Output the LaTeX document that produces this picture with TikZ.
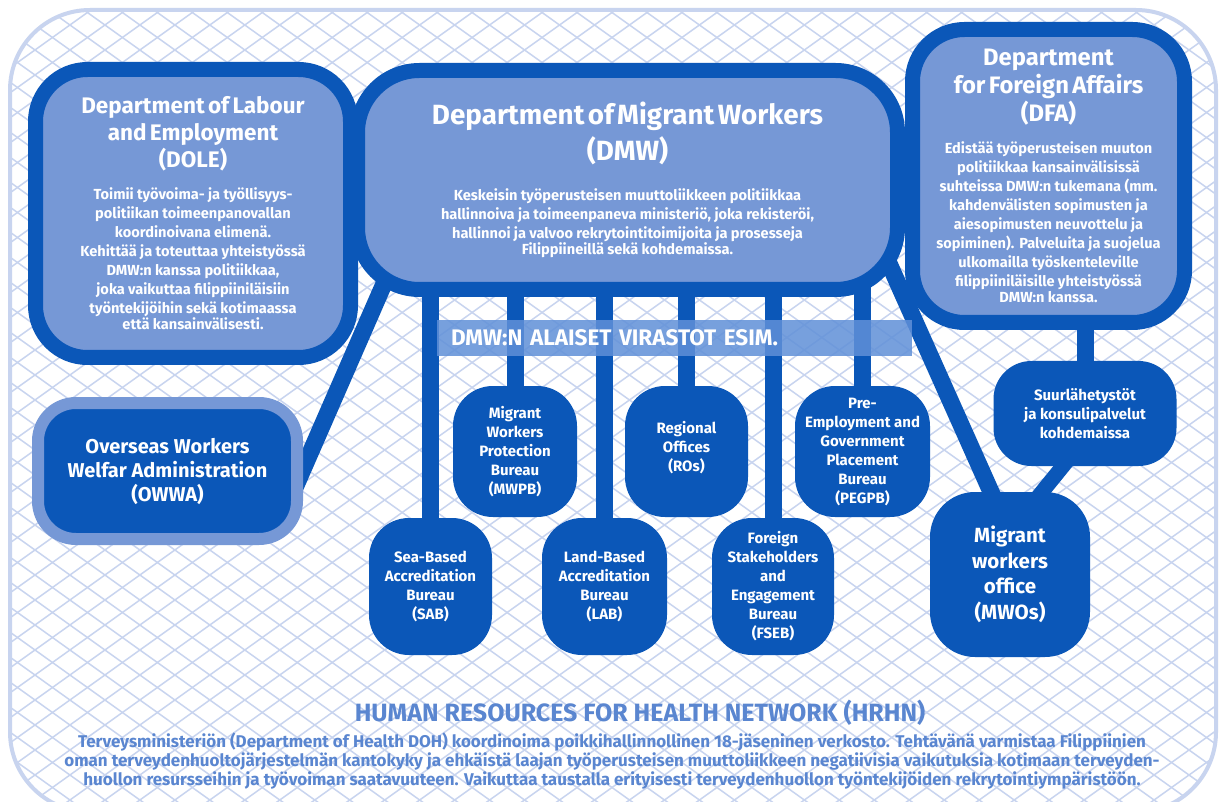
\documentclass[tikz,border=0pt]{standalone}
\usepackage{fontspec}
\setmainfont{Fira Sans}
\usetikzlibrary{positioning}
\definecolor{dkblue}{RGB}{11,87,184}
\definecolor{ltblue}{RGB}{118,152,214}
\definecolor{hatchblue}{RGB}{200,212,239}
\definecolor{barblue}{RGB}{96,144,216}
\definecolor{txtblue}{RGB}{90,134,208}
\pgfdeclarelayer{back}
\pgfdeclarelayer{bg}
\pgfsetlayers{back,bg,main}
\newcommand{\boxbody}{\fontsize{14.6}{19}\selectfont}
\begin{document}
\begin{tikzpicture}[x=1pt,y=-1pt,
  bigbox/.style={draw=dkblue,line width=15pt,fill=ltblue,text=white,font=\bfseries,align=center,inner sep=0pt},
  subbox/.style={fill=dkblue,rounded corners=40pt,text=white,font=\bfseries\fontsize{15}{19}\selectfont,align=center,inner sep=0pt},
  link/.style={dkblue,line width=17pt},
  hatch/.style={hatchblue,line width=1.5pt}]
\useasboundingbox (0,0) rectangle (1224,802);

% net in the background
\begin{pgfonlayer}{back}
\fill[white] (0,0) rectangle (1224,802);
\begin{scope}
\clip[rounded corners=80pt] (10,10) rectangle (1216,812);
\foreach \c in {-900,-875,...,825} \draw[hatch] (0,\c) -- (1224,\c+875);
\foreach \c in {0,25,...,1700} \draw[hatch] (0,\c) -- (1224,\c-875);
\end{scope}
\draw[hatchblue,line width=4pt,rounded corners=80pt] (10,10) rectangle (1216,812);
\end{pgfonlayer}

\node[bigbox,rounded corners=52pt,minimum width=315pt,minimum height=288pt,text width=300pt] (dole) at (193,213.5) {\fontsize{22.5}{27}\selectfont Department of Labour\\and Employment\\(DOLE)\par\vspace{13pt}\boxbody
Toimii työvoima- ja työllisyys-\\politiikan toimeenpanovallan\\koordinoivana elimenä.\\Kehittää ja toteuttaa yhteistyössä\\DMW:n kanssa politiikkaa,\\joka vaikuttaa filippiiniläisiin\\työntekijöihin sekä kotimaassa\\että kansainvälisesti.};
\node[bigbox,rounded corners=62pt,minimum width=540pt,minimum height=219pt,text width=520pt] (dmw) at (627.5,180) {\fontsize{27.8}{36}\selectfont Department of Migrant Workers\\(DMW)\par\vspace{21pt}\boxbody
Keskeisin työperusteisen muuttoliikkeen politiikkaa\\hallinnoiva ja toimeenpaneva ministeriö, joka rekisteröi,\\hallinnoi ja valvoo rekrytointitoimijoita ja prosesseja\\Filippiineillä sekä kohdemaissa.};
\node[bigbox,rounded corners=52pt,minimum width=272pt,minimum height=293pt,text width=260pt] (dfa) at (1048.5,176) {\fontsize{23.8}{28}\selectfont Department\\for Foreign Affairs\\(DFA)\par\vspace{13pt}\boxbody
Edistää työperusteisen muuton\\politiikkaa kansainvälisissä\\suhteissa DMW:n tukemana (mm.\\kahdenvälisten sopimusten ja\\aiesopimusten neuvottelu ja\\sopiminen). Palveluita ja suojelua\\ulkomailla työskenteleville\\filippiiniläisille yhteistyössä\\DMW:n kanssa.};

\node[draw=ltblue,line width=12pt,fill=dkblue,rounded corners=38pt,minimum width=259pt,minimum height=136pt,text=white,align=center,font=\bfseries\fontsize{20}{24}\selectfont] (owwa) at (167.5,471) {Overseas Workers\\Welfar Administration\\(OWWA)};

\node[subbox,minimum width=124pt,minimum height=131pt] (mwpb) at (515,451.5) {Migrant\\Workers\\Protection\\Bureau\\(MWPB)};
\node[subbox,minimum width=123pt,minimum height=131pt] (ro) at (686.5,451.5) {Regional\\Offices\\(ROs)\\[-9pt]};
\node[subbox,minimum width=135pt,minimum height=131pt] (pegpb) at (862.5,451.5) {Pre-\\Employment and\\Government\\Placement\\Bureau\\(PEGPB)};
\node[subbox,minimum width=123pt,minimum height=137pt] (sab) at (430.5,586.5) {Sea-Based\\Accreditation\\Bureau\\(SAB)};
\node[subbox,minimum width=125pt,minimum height=137pt] (lab) at (604.5,586.5) {Land-Based\\Accreditation\\Bureau\\(LAB)};
\node[subbox,minimum width=122pt,minimum height=137pt] (fseb) at (773,586.5) {Foreign\\Stakeholders\\and\\Engagement\\Bureau\\(FSEB)};
\node[subbox,rounded corners=38pt,minimum width=183pt,minimum height=105pt] (suur) at (1085,413.5) {Suurlähetystöt\\ja konsulipalvelut\\kohdemaissa};
\node[subbox,rounded corners=45pt,minimum width=160pt,minimum height=165pt,font=\bfseries\fontsize{20.5}{25.5}\selectfont] (mwo) at (1010,574.5) {Migrant\\workers\\office\\(MWOs)};

\begin{pgfonlayer}{bg}
\draw[link] (sab.north |- dmw.center) -- (sab.center);
\draw[link] (mwpb.north |- dmw.center) -- (mwpb.center);
\draw[link] (lab.north |- dmw.center) -- (lab.center);
\draw[link] (ro.north |- dmw.center) -- (ro.center);
\draw[link] (fseb.north |- dmw.center) -- (fseb.center);
\draw[link] (pegpb.north |- dmw.center) -- (pegpb.center);
\draw[link] ([shift={(40,-27)}]dmw.south west) -- ([shift={(-9,-55)}]owwa.south east);
\draw[link] ([shift={(-22,-47)}]dmw.south east) -- ([shift={(-11,18)}]mwo.north);
\draw[link,line width=15pt] ([shift={(-14,-10)}]suur.south) -- ([shift={(24,10)}]mwo.north);
\draw[link] (suur.north |- dfa.center) -- (suur.center);
\node[fill=barblue,fill opacity=0.85,text opacity=1,text=white,minimum height=36pt,text width=447pt,inner xsep=14pt,align=left,font=\bfseries\fontsize{22.5}{22.5}\selectfont] (bar) at (674.5,338) {DMW:N ALAISET VIRASTOT ESIM.};
\end{pgfonlayer}

\node[text=txtblue,font=\bfseries\fontsize{25}{25}\selectfont] (hrhn) at (640,713) {HUMAN RESOURCES FOR HEALTH NETWORK (HRHN)};
\node[text=txtblue,align=center,font=\bfseries\fontsize{17}{19}\selectfont] (hrhntxt) at (612,761) {Terveysministeriön (Department of Health DOH) koordinoima poikkihallinnollinen 18-jäseninen verkosto. Tehtävänä varmistaa Filippiinien\\oman terveydenhuoltojärjestelmän kantokyky ja ehkäistä laajan työperusteisen muuttoliikkeen negatiivisia vaikutuksia kotimaan terveyden-\\huollon resursseihin ja työvoiman saatavuuteen. Vaikuttaa taustalla erityisesti terveydenhuollon työntekijöiden rekrytointiympäristöön.};
\end{tikzpicture}
\end{document}
